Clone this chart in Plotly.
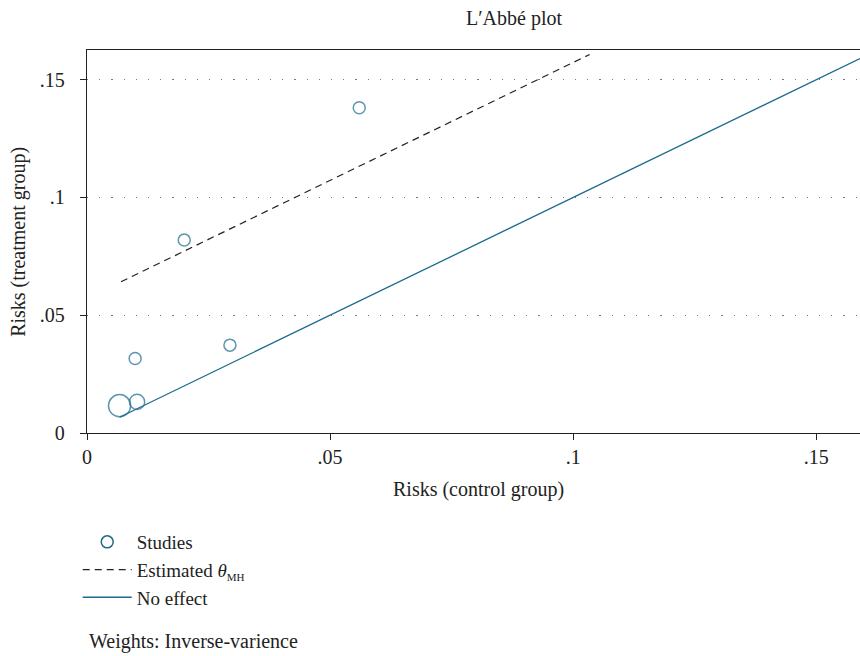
import plotly.graph_objects as go
import numpy as np

# Data
control_risk = [0.0067, 0.0103, 0.0099, 0.0200, 0.0294, 0.0560]
treatment_risk = [0.0116, 0.0132, 0.0316, 0.0819, 0.0373, 0.1381]
study_weight = [3.4, 1.6, 1.0, 1.0, 1.0, 1.0]

est_x = [0.0070, 0.1034]
est_y = [0.0642, 0.1607]

noeff_x = [0.0067, 0.159]
noeff_y = [0.0067, 0.159]

tick_vals = [0, 0.05, 0.1, 0.15]
tick_text = ["0", ".05", ".1", ".15"]

TEAL = "#1b6a8d"
FONT = "Liberation Serif"
TXT = "#222222"
FS = 20

sizes = [12 * np.sqrt(w) for w in study_weight]

fig = go.Figure()
fig.add_trace(go.Scatter(
    x=control_risk, y=treatment_risk, mode="markers", showlegend=False,
    marker=dict(symbol="circle-open", size=sizes, color=TEAL, line=dict(width=1.5, color=TEAL)),
))
fig.add_trace(go.Scatter(
    x=[None], y=[None], mode="markers", name="Studies",
    marker=dict(symbol="circle-open", size=12, color=TEAL, line=dict(width=1.5, color=TEAL)),
))
fig.add_trace(go.Scatter(
    x=est_x, y=est_y, mode="lines",
    name="Estimated <i>θ</i><sub><span style='font-size:11px'>MH</span></sub>",
    line=dict(color="#222222", width=1.2, dash="7px,5px"),
))
fig.add_trace(go.Scatter(
    x=noeff_x, y=noeff_y, mode="lines", name="No effect",
    line=dict(color=TEAL, width=1.3),
))

fig.update_layout(
    width=860, height=656,
    margin=dict(l=87, r=0, t=50, b=223, pad=0),
    paper_bgcolor="white", plot_bgcolor="white",
    font=dict(family=FONT, size=FS, color=TXT),
    showlegend=True,
    legend=dict(x=-0.012, y=-0.235, xanchor="left", yanchor="top",
                bgcolor="rgba(0,0,0,0)", font=dict(size=19, family=FONT, color=TXT),
                tracegroupgap=0, itemwidth=49),
    xaxis=dict(range=[0, 0.159], tickvals=tick_vals, ticktext=tick_text,
               showgrid=False, zeroline=False, showline=True, linecolor="#222",
               linewidth=1.3, mirror=True, ticks="outside", ticklen=6, tickwidth=1.3,
               tickcolor="#222", tickfont=dict(size=FS, family=FONT, color=TXT)),
    yaxis=dict(range=[0, 0.1626], tickvals=tick_vals, ticktext=tick_text,
               showgrid=True, gridcolor="#777", gridwidth=1.2, griddash="1.2px,11px",
               zeroline=False, showline=True, linecolor="#222", linewidth=1.3,
               ticks="outside", ticklen=6, tickwidth=1.3, tickcolor="#222",
               ticklabelstandoff=11,
               tickfont=dict(size=FS, family=FONT, color=TXT)),
    annotations=[
        dict(text="L′Abbé plot", x=0.5526, y=1.082, xref="paper", yref="paper",
             showarrow=False, xanchor="center", yanchor="middle", font=dict(size=FS)),
        dict(text="Risks (control group)", x=0.507, y=-0.1477, xref="paper", yref="paper",
             showarrow=False, xanchor="center", yanchor="middle", font=dict(size=FS)),
        dict(text="Risks (treatment group)", x=-0.0888, y=0.5, xref="paper", yref="paper",
             showarrow=False, xanchor="center", yanchor="middle", textangle=-90,
             font=dict(size=FS)),
        dict(text="Weights: Inverse-varience", x=0.0, y=-0.5438, xref="paper", yref="paper",
             showarrow=False, xanchor="left", yanchor="middle", font=dict(size=FS)),
    ],
)

fig.write_html("out.html", config={"displayModeBar": False},
               post_script="document.body.style.margin='0';document.body.style.overflow='hidden';")
